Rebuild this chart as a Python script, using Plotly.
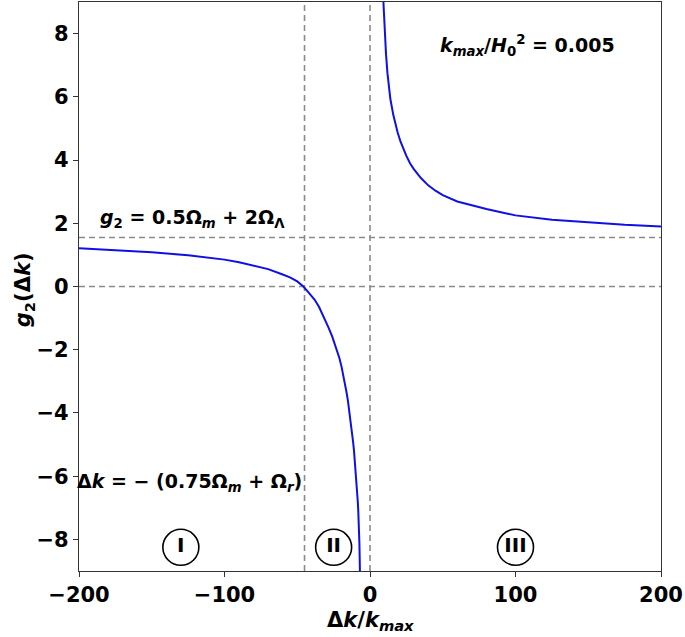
import plotly.graph_objects as go

# values
left_x = [-200, -175, -150, -125, -100, -90, -80, -70, -60, -55, -50, -45.8, -42, -38, -35,
          -31.6, -28.5, -26, -24, -22.5, -21, -19.5, -18.3, -17.2, -16.2, -15.2, -14.4, -13.7,
          -12.9, -12.2, -11.6, -11, -10.5, -10, -9.6, -9.2, -8.8, -8.4, -8.1, -7.8, -7.5, -7.3,
          -7.1, -6.9]
left_y = [1.21, 1.15, 1.08, 0.99, 0.85, 0.77, 0.67, 0.55, 0.38, 0.29, 0.16, 0.0, -0.2, -0.42, -0.65,
          -0.97, -1.3, -1.58, -1.85, -2.05, -2.27, -2.55, -2.8, -3.08, -3.33, -3.6, -3.87, -4.13,
          -4.4, -4.65, -4.92, -5.19, -5.45, -5.7, -5.97, -6.24, -6.52, -6.8, -7.05, -7.3, -7.7, -8.1,
          -8.55, -9.1]

right_x = [9.0, 9.5, 10, 11, 12, 13, 14, 16, 17.5, 19, 21, 23, 25, 27.5, 30, 35, 40, 45,
           50, 60, 70, 80, 90, 100, 125, 150, 175, 200]
right_y = [9.2, 8.6, 8.1, 7.35, 6.75, 6.3, 5.93, 5.43, 5.13, 4.87, 4.58, 4.33, 4.13, 3.9, 3.72,
           3.43, 3.2, 3.03, 2.89, 2.69, 2.56, 2.45, 2.35, 2.25, 2.11, 2.02, 1.95, 1.9]

hline_values = [0, 1.55]
vline_values = [-45, 0]

region_labels = ["I", "II", "III"]
region_x = [-130, -25, 100]
region_y = [-8.25, -8.25, -8.25]

FONT = "DejaVu Sans"

fig = go.Figure()

for xs, ys in [(left_x, left_y), (right_x, right_y)]:
    fig.add_trace(go.Scatter(x=xs, y=ys, mode="lines", line=dict(color="#1010e6", width=2),
                             showlegend=False, hoverinfo="skip"))

fig.add_trace(go.Scatter(
    x=region_x, y=region_y, mode="markers+text", text=region_labels,
    textposition="middle center",
    textfont=dict(family=FONT, size=20, color="black", weight="bold"),
    marker=dict(symbol="circle-open", size=36, color="black", line=dict(width=1.6)),
    showlegend=False, hoverinfo="skip"))

dash_style = dict(color="#8a8a8a", width=1.6, dash="6px,4px")
for y in hline_values:
    fig.add_shape(type="line", xref="x domain", yref="y", x0=0, x1=1, y0=y, y1=y, line=dash_style, layer="below")
for x in vline_values:
    fig.add_shape(type="line", xref="x", yref="y domain", x0=x, x1=x, y0=0, y1=1, line=dash_style, layer="below")

ann_font = dict(family=FONT, size=19, color="black", weight="bold")
fig.add_annotation(x=108, y=7.63, text="<i>k</i><sub><i>max</i></sub>/<i>H</i><sub>0</sub><sup>2</sup> = 0.005",
                   showarrow=False, font=ann_font)
fig.add_annotation(x=-122, y=2.15, text="<i>g</i><sub>2</sub> = 0.5Ω<sub><i>m</i></sub> + 2Ω<sub>Λ</sub>",
                   showarrow=False, font=ann_font)
fig.add_annotation(x=-124, y=-6.2, text="Δ<i>k</i> = − (0.75Ω<sub><i>m</i></sub> + Ω<sub><i>r</i></sub>)",
                   showarrow=False, font=ann_font)

title_font = dict(family=FONT, size=21, color="black", weight="bold")
fig.add_annotation(xref="paper", yref="paper", x=0.5, y=-0.088, xanchor="center", yanchor="middle",
                   text="Δ<i>k</i>/<i>k</i><sub><i>max</i></sub>", showarrow=False, font=title_font)
fig.add_annotation(xref="paper", yref="paper", x=-0.094, y=0.494, xanchor="center", yanchor="middle",
                   text="<i>g</i><sub>2</sub>(Δ<i>k</i>)", textangle=-90, showarrow=False, font=title_font)

axis_common = dict(showgrid=False, zeroline=False, showline=True, mirror=True, automargin=False,
                   linecolor="#333333", linewidth=1.3, ticks="outside", ticklen=5,
                   tickcolor="#333333", tickfont=dict(family=FONT, size=21, color="black", weight="bold"))

fig.update_xaxes(range=[-200, 200], tickvals=[-200, -100, 0, 100, 200],
                 ticktext=["−200", "−100", "0", "100", "200"], **axis_common)
fig.update_yaxes(range=[-9, 9], tickvals=[-8, -6, -4, -2, 0, 2, 4, 6, 8],
                 ticktext=["−8", "−6", "−4", "−2", "0", "2", "4", "6", "8"], **axis_common)

fig.update_layout(width=685, height=637, margin=dict(l=79, r=24, t=2, b=66),
                  plot_bgcolor="white", paper_bgcolor="white")

fig.write_html("out.html", config={"displayModeBar": False},
               post_script="document.body.style.margin='0px';")
